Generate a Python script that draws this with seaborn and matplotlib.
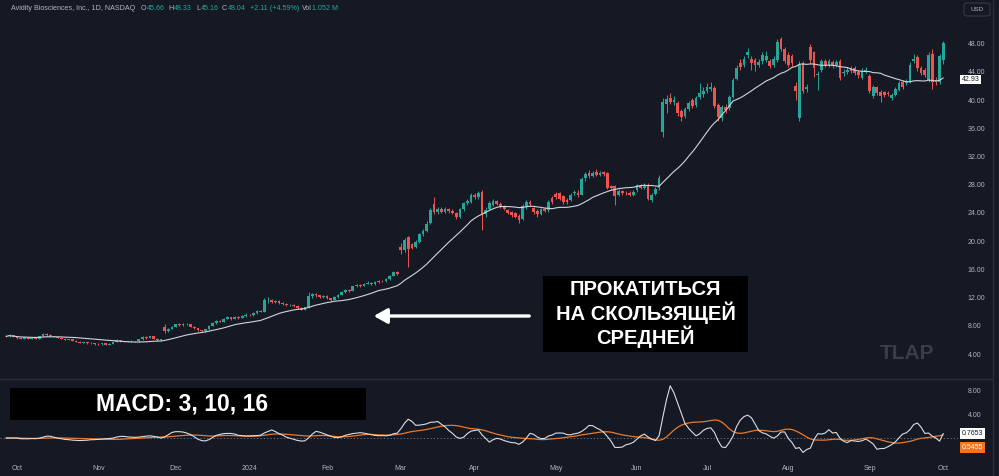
import numpy as np
import pandas as pd
import matplotlib
matplotlib.use("Agg")
import matplotlib.pyplot as plt
from matplotlib.lines import Line2D
from matplotlib.patches import Rectangle, FancyBboxPatch, FancyArrowPatch
import matplotlib.transforms as mtransforms
import seaborn as sns

# ---------------- data ----------------
opens = [6.6, 6.5, 6.7,
         6.4, 6.3, 6.2, 6.35, 6.2, 6.3, 6.2, 6.5, 6.9, 6.75, 6.5, 6.45, 6.3, 6.2, 6.05, 6.1, 5.9, 5.7, 5.6, 5.65, 5.5, 5.55,
         5.45, 5.4, 5.5, 5.35, 5.45, 5.7, 6.0, 5.85, 5.75, 5.8, 5.85, 5.8, 6.1, 6.4, 6.3, 6.5, 6.2, 6.0, 7.8, 7.2, 7.6,
         7.9, 8.2, 8.1, 8.3, 8.2, 7.9, 7.7, 7.35, 7.2, 7.5, 8.0, 8.4, 8.7, 8.6, 9.0, 9.2, 8.95, 9.3, 9.1, 9.4,
         9.6, 9.5, 9.8, 10.1, 10.0, 11.6, 11.7, 11.4, 11.5, 11.2, 11.1, 10.9, 11.0, 10.8, 10.5, 10.3, 10.6, 12.2, 12.5, 12.3, 12.1,
         12.2, 11.9, 11.7, 12.1, 12.4, 12.8, 13.1, 13.0, 13.6, 13.8, 13.7, 14.0, 14.1, 13.9, 14.2, 14.4, 14.3, 14.6, 15.1, 15.6,
         19.2, 18.7, 20.6, 19.6, 19.2, 19.9, 21.0, 21.5, 22.6, 25.3, 24.1, 24.6, 24.2, 24.5, 24.3, 24.0, 23.4, 24.5, 25.4, 25.6,
         26.5, 26.2, 27.0, 23.8, 24.6, 25.2, 25.7, 25.3, 25.0, 24.4, 24.1, 24.0, 23.6, 23.2, 24.8, 25.6, 24.7, 24.3, 23.9, 24.6, 24.4, 26.1,
         26.7, 26.8, 26.4, 25.8, 25.9, 26.8, 26.9, 26.6, 28.9, 29.6, 29.3, 29.8, 29.4, 29.8, 29.6, 27.8, 27.8, 26.6, 27.1, 26.9, 26.9, 26.6,
         27.2, 27.9, 27.6, 28.0, 25.8, 26.7, 27.5, 35.5, 39.5, 40.3, 39.8, 39.6, 38.4, 37.8, 38.7, 40.0, 39.3, 40.4, 40.9,
         41.3, 41.6, 41.7, 39.3, 37.4, 39.0, 38.9, 40.5, 43.0, 45.2, 45.0, 46.4, 45.9, 45.7, 45.0, 45.5, 45.7, 45.5, 45.0, 45.7, 48.6, 47.2,
         46.4, 46.2, 42.0, 37.5, 45.2, 41.6, 47.5, 46.8, 43.5, 44.3, 45.6, 45.0, 45.4, 45.0, 45.5, 43.8, 44.0, 44.5, 44.6, 44.0, 43.2, 44.2,
         43.4, 40.6, 41.8, 41.2, 41.1, 41.0, 40.3, 40.8, 41.5, 42.6, 42.4, 42.6, 45.5, 46.1, 44.5, 44.3, 42.9, 46.6, 42.9, 42.6,
         45.66]
closes = [6.5, 6.7, 6.4,
          6.3, 6.2, 6.35, 6.2, 6.3, 6.2, 6.5, 6.9, 6.75, 6.5, 6.45, 6.3, 6.2, 6.05, 6.1, 5.9, 5.7, 5.6, 5.65, 5.5, 5.55, 5.45,
          5.4, 5.5, 5.35, 5.45, 5.7, 6.0, 5.85, 5.75, 5.8, 5.85, 5.8, 6.1, 6.4, 6.3, 6.5, 6.2, 6.0, 6.1, 7.2, 7.6, 7.9,
          8.2, 8.1, 8.3, 8.2, 7.9, 7.7, 7.35, 7.2, 7.5, 8.0, 8.4, 8.7, 8.6, 9.0, 9.2, 8.95, 9.3, 9.1, 9.4, 9.6,
          9.5, 9.8, 10.1, 10.0, 11.6, 11.7, 11.4, 11.5, 11.2, 11.1, 10.9, 11.0, 10.8, 10.5, 10.3, 10.6, 12.2, 12.5, 12.3, 12.1, 12.2,
          11.9, 11.7, 12.1, 12.4, 12.8, 13.1, 13.0, 13.6, 13.8, 13.7, 14.0, 14.1, 13.9, 14.2, 14.4, 14.3, 14.6, 15.1, 15.6, 15.4,
          18.7, 20.2, 18.9, 19.1, 19.9, 21.0, 21.4, 22.5, 24.4, 24.1, 24.6, 24.2, 24.5, 24.3, 24.0, 23.5, 24.5, 25.4, 25.7, 26.5,
          26.2, 26.8, 23.8, 24.4, 25.4, 25.7, 25.3, 24.9, 24.6, 24.0, 23.7, 23.5, 23.0, 25.0, 25.5, 25.3, 24.1, 23.8, 24.5, 24.3, 25.6, 25.6,
          26.2, 26.0, 25.5, 25.6, 26.6, 27.0, 26.5, 28.8, 29.5, 29.3, 29.7, 29.4, 29.7, 29.5, 27.6, 27.5, 26.4, 27.1, 26.9, 26.8, 26.6, 27.0,
          27.9, 27.6, 28.0, 26.0, 26.6, 27.4, 29.0, 39.8, 40.2, 39.8, 40.0, 38.2, 37.6, 38.7, 39.6, 39.2, 40.3, 41.0, 41.3,
          41.8, 41.9, 39.2, 37.6, 39.0, 38.6, 40.5, 42.9, 44.6, 44.7, 45.9, 46.8, 45.2, 45.0, 45.4, 46.4, 46.2, 44.8, 45.8, 48.3, 47.2, 45.5,
          45.0, 45.2, 41.3, 45.0, 41.3, 41.9, 45.7, 44.5, 43.7, 45.5, 45.0, 45.5, 44.9, 45.4, 43.2, 44.0, 44.3, 44.1, 43.8, 43.5, 44.2, 44.3,
          41.3, 41.8, 41.0, 40.6, 40.8, 40.9, 40.7, 41.6, 42.4, 41.9, 42.6, 45.0, 45.9, 44.5, 43.8, 43.6, 46.4, 42.6, 42.6, 46.2,
          48.04]
highs = [6.75, 6.8, 6.75,
         6.5, 6.4, 6.45, 6.4, 6.4, 6.35, 6.6, 7.05, 7.0, 6.8, 6.6, 6.5, 6.4, 6.25, 6.2, 6.15, 5.95, 5.8, 5.75, 5.7, 5.65, 5.6,
         5.55, 5.6, 5.55, 5.55, 5.8, 6.1, 6.05, 5.9, 5.9, 5.95, 5.9, 6.2, 6.5, 6.5, 6.6, 6.55, 6.25, 6.2, 8.2, 7.7, 8.0,
         8.3, 8.35, 8.45, 8.4, 8.25, 7.95, 7.75, 7.45, 7.6, 8.1, 8.5, 8.8, 8.85, 9.1, 9.35, 9.3, 9.4, 9.4, 9.5, 9.75,
         9.7, 9.9, 10.2, 10.25, 12.0, 12.1, 11.8, 11.7, 11.6, 11.35, 11.2, 11.15, 11.1, 10.9, 10.6, 10.7, 12.8, 12.7, 12.6, 12.4, 12.35,
         12.3, 12.0, 12.2, 12.5, 12.9, 13.25, 13.2, 13.7, 13.95, 13.9, 14.1, 14.3, 14.2, 14.3, 14.55, 14.5, 14.75, 15.2, 15.8, 15.75,
         19.8, 20.5, 20.8, 19.8, 20.1, 21.2, 21.7, 22.8, 24.7, 26.3, 24.9, 24.8, 24.8, 24.7, 24.5, 24.2, 24.7, 25.6, 26.0, 26.8,
         26.9, 27.1, 27.2, 24.8, 25.7, 26.0, 25.9, 25.5, 25.2, 24.6, 24.3, 24.2, 23.8, 25.3, 25.8, 25.9, 24.9, 24.5, 24.7, 24.8, 25.9, 26.4,
         27.0, 27.0, 26.6, 26.1, 26.9, 27.3, 27.2, 29.1, 29.8, 30.1, 30.0, 30.2, 30.0, 30.0, 29.8, 28.0, 28.0, 27.4, 27.3, 27.1, 27.1, 27.3,
         28.1, 28.1, 28.2, 28.2, 26.9, 27.7, 29.4, 40.3, 40.8, 41.0, 40.6, 39.9, 38.7, 39.0, 39.9, 40.3, 40.6, 42.5, 41.8,
         42.4, 42.6, 42.0, 39.6, 39.3, 39.4, 40.8, 43.2, 45.0, 45.8, 46.3, 47.4, 46.2, 46.0, 45.8, 46.8, 46.9, 45.9, 46.2, 48.6, 49.0, 47.5,
         46.8, 46.5, 42.6, 45.6, 45.6, 42.3, 47.9, 47.0, 44.2, 45.8, 45.9, 45.8, 45.7, 45.7, 45.8, 44.4, 44.7, 44.8, 44.9, 44.3, 44.5, 44.7,
         43.7, 42.1, 42.0, 41.4, 41.3, 41.3, 41.0, 41.9, 42.7, 42.9, 43.0, 45.4, 46.6, 46.4, 44.8, 44.6, 46.8, 47.2, 43.3, 46.6,
         48.33]
lows = [6.4, 6.45, 6.35,
        6.2, 6.1, 6.15, 6.1, 6.15, 6.1, 6.15, 6.45, 6.6, 6.45, 6.35, 6.25, 6.1, 5.95, 5.95, 5.85, 5.65, 5.5, 5.5, 5.4, 5.4, 5.35,
        5.3, 5.3, 5.25, 5.3, 5.4, 5.65, 5.75, 5.65, 5.7, 5.7, 5.7, 5.75, 6.05, 6.2, 6.25, 6.15, 5.9, 5.9, 7.0, 7.1, 7.5,
        7.8, 8.0, 8.0, 8.1, 7.8, 7.6, 7.3, 7.1, 7.15, 7.45, 7.95, 8.3, 8.5, 8.55, 8.9, 8.85, 8.9, 9.0, 9.05, 9.3,
        9.35, 9.4, 9.7, 9.9, 9.9, 11.3, 11.2, 11.25, 11.1, 10.95, 10.8, 10.8, 10.7, 10.4, 10.2, 10.2, 10.5, 12.0, 12.1, 11.9, 11.95,
        11.8, 11.55, 11.6, 12.0, 12.3, 12.7, 12.85, 12.95, 13.5, 13.55, 13.6, 13.9, 13.8, 13.85, 14.1, 14.15, 14.2, 14.5, 15.0, 15.2,
        18.2, 18.5, 16.3, 18.9, 19.0, 19.8, 20.8, 21.3, 22.4, 23.9, 23.9, 24.0, 24.0, 24.0, 23.8, 23.2, 23.3, 24.3, 25.2, 25.4,
        26.0, 26.0, 21.6, 23.4, 24.4, 25.0, 25.1, 24.7, 24.4, 23.8, 23.5, 23.3, 22.6, 23.0, 24.6, 25.0, 23.9, 23.5, 23.7, 24.1, 24.2, 25.3,
        26.0, 25.8, 25.3, 25.3, 25.7, 26.5, 26.3, 26.5, 28.6, 29.0, 29.1, 29.2, 29.2, 29.3, 27.4, 27.2, 25.1, 26.4, 26.6, 26.6, 26.4, 26.4,
        27.0, 27.4, 27.4, 25.8, 25.5, 26.5, 27.3, 34.8, 38.2, 39.4, 39.3, 37.8, 37.0, 37.5, 38.4, 38.9, 39.0, 40.1, 40.5,
        41.0, 41.3, 38.9, 37.0, 37.1, 38.2, 38.6, 40.3, 42.8, 44.3, 44.7, 46.0, 44.3, 44.2, 44.7, 45.1, 45.4, 44.5, 44.7, 45.4, 46.9, 45.2,
        44.7, 44.9, 40.0, 37.0, 41.0, 41.2, 45.3, 43.3, 41.5, 44.0, 44.7, 44.7, 44.6, 44.7, 42.9, 43.4, 43.7, 43.8, 43.5, 43.2, 43.0, 43.9,
        41.0, 40.3, 40.7, 39.8, 40.5, 40.6, 40.0, 40.6, 41.3, 41.6, 42.1, 42.4, 45.2, 44.2, 43.5, 43.3, 42.6, 41.6, 42.2, 42.3,
        45.16]

holidays = ["2023-11-23", "2023-12-25", "2024-01-01", "2024-01-15", "2024-02-19",
            "2024-03-29", "2024-05-27", "2024-06-19", "2024-07-04", "2024-09-02"]
month_labels = ["Oct", "Nov", "Dec", "2024", "Feb", "Mar", "Apr", "May", "Jun", "Jul", "Aug", "Sep", "Oct"]
price_ticks = [4, 8, 12, 16, 20, 24, 28, 32, 36, 40, 44, 48]
macd_ticks = [4, 8]
ma_label = "42.93"
macd_label = "0.7653"
signal_label = "0.5455"
ma_box_level, macd_box_level = 42.93, 0.7653
header_title = "Avidity Biosciences, Inc., 1D, NASDAQ"
header_keys = ["O", "H", "L", "C", "", "Vol"]
header_vals = ["45.66", "48.33", "45.16", "48.04", "+2.11 (+4.59%)", "1.052 M"]
header_starts = [140.5, 168, 196, 222, 249.5, 302]
annot_text = "ПРОКАТИТЬСЯ\nНА СКОЛЬЗЯЩЕЙ\nСРЕДНЕЙ"
macd_text = "MACD: 3, 10, 16"
watermark = "TLAP"

# ---------------- frame ----------------
dates = pd.bdate_range("2023-09-27", "2024-10-01")
dates = dates[~dates.isin(pd.to_datetime(holidays))]
df = pd.DataFrame({"date": dates[:len(closes)], "open": opens, "high": highs,
                   "low": lows, "close": closes})
df["i"] = np.arange(len(df))
df["ma"] = df["close"].rolling(20, min_periods=1).mean()
fast = df["close"].rolling(3, min_periods=1).mean()
slow = df["close"].rolling(10, min_periods=1).mean()
df["macd"] = fast - slow
df["signal"] = df["macd"].rolling(16, min_periods=1).mean()
month_idx = [i for i in range(1, len(df)) if df["date"][i].month != df["date"][i - 1].month]

BG = "#151924"
GREEN, RED = "#26a69a", "#ef5350"
TXT = "#b2b5be"

sns.set_theme(style="dark", rc={"axes.facecolor": BG, "figure.facecolor": BG})
plt.rcParams["font.family"] = ["Liberation Sans", "DejaVu Sans"]

W, H = 999, 476
fig = plt.figure(figsize=(W / 100, H / 100), dpi=100, facecolor=BG)
fx = lambda px: px / W
fy = lambda py: 1 - py / H

x0 = -6 / 3.69
x1 = (958 - 6) / 3.69

ax = fig.add_axes([0, fy(378), 958 / W, 378 / H])
axm = fig.add_axes([0, fy(455), 958 / W, 75 / H])
for a in (ax, axm):
    a.set_facecolor(BG)
    for s in a.spines.values():
        s.set_visible(False)
    a.grid(False)
    a.set_xlim(x0, x1)

# candles
up = df["close"] >= df["open"]
cols = np.where(up, GREEN, RED)
ax.vlines(df["i"], df["low"], df["high"], colors=cols, lw=0.7, zorder=2)
body = (df["close"] - df["open"]).abs().clip(lower=0.06)
ax.bar(df["i"], body, bottom=df[["open", "close"]].min(axis=1), width=0.74,
       color=cols, linewidth=0, zorder=3)
sns.lineplot(data=df, x="i", y="ma", ax=ax, color="#d1d4dc", lw=0.8, zorder=4)
ax.set_ylim(0.6, 54.2)
ax.set_xlabel(""); ax.set_ylabel("")
ax.set_xticks([])
ax.yaxis.tick_right()
ax.set_yticks(price_ticks)
ax.set_yticklabels([f"{v:.2f}" for v in price_ticks])
ax.tick_params(axis="y", length=0, pad=7, labelsize=5, labelcolor=TXT)

# MACD pane
axm.axhline(0, color="#787b86", lw=0.6, ls=(0, (1.5, 2.5)), zorder=1)
sns.lineplot(data=df, x="i", y="signal", ax=axm, color="#e8792b", lw=0.9, zorder=3)
sns.lineplot(data=df, x="i", y="macd", ax=axm, color="#dcdde2", lw=0.8, zorder=4)
axm.set_ylim(-2.83, 9.67)
axm.set_xlabel(""); axm.set_ylabel("")
axm.yaxis.tick_right()
axm.set_yticks(macd_ticks)
axm.set_yticklabels([f"{v:.2f}" for v in macd_ticks])
axm.tick_params(axis="y", length=0, pad=7, labelsize=5, labelcolor=TXT)
axm.set_xticks(month_idx)
axm.set_xticklabels(month_labels)
axm.tick_params(axis="x", length=0, pad=7, labelsize=5, labelcolor=TXT)

# right-side value boxes
tr = mtransforms.blended_transform_factory(ax.transAxes, ax.transData)
ax.text(1.004, ma_box_level, ma_label, transform=tr, fontsize=5, color="#131722",
        va="center", ha="left", zorder=10, clip_on=False,
        bbox=dict(boxstyle="square,pad=0.2", fc="white", ec="none"))
trm = mtransforms.blended_transform_factory(axm.transAxes, axm.transData)
axm.text(1.004, macd_box_level, macd_label, transform=trm, fontsize=5, color="#131722",
         va="center", ha="left", zorder=10, clip_on=False,
         bbox=dict(boxstyle="square,pad=0.25", fc="white", ec="none"))
axm.annotate(signal_label, xy=(1.004, macd_box_level), xycoords=trm, xytext=(0, -10),
             textcoords="offset points", fontsize=5, color="white", va="center", ha="left",
             zorder=10, annotation_clip=False,
             bbox=dict(boxstyle="square,pad=0.25", fc="#f7731c", ec="none"))

# separators
fig.add_artist(Line2D([0, fx(993)], [fy(379), fy(379)], color="#2a2e39", lw=1))
fig.add_artist(Line2D([fx(993), fx(993)], [0, 1], color="#2a2e39", lw=1))

# USD box
fig.add_artist(FancyBboxPatch((fx(964), fy(16)), 26 / W, 13 / H,
                              boxstyle="round,pad=0,rounding_size=0.004",
                              transform=fig.transFigure, fc=BG, ec="#363a45", lw=0.8))
fig.text(fx(977), fy(9.5), "USD", fontsize=4.5, color=TXT, ha="center", va="center")

# header (label followed directly by its value)
renderer = fig.canvas.get_renderer()
fig.text(fx(11), fy(8), header_title, fontsize=5.1, color=TXT, ha="left", va="center")
for key, val, px in zip(header_keys, header_vals, header_starts):
    xv = px
    if key:
        t = fig.text(fx(px), fy(8), key, fontsize=5.1, color=TXT, ha="left", va="center")
        bb = t.get_window_extent(renderer=renderer)
        xv = bb.x1 + 0.6
    fig.text(fx(xv), fy(8), val, fontsize=5.1, color=GREEN, ha="left", va="center")

# annotation box + arrow
fig.add_artist(Rectangle((fx(543), fy(352)), 205 / W, 76 / H, transform=fig.transFigure,
                         fc="black", ec="none", zorder=5))
fig.text(fx(645.5), fy(314), annot_text, fontsize=14.5, fontweight="bold", color="white",
         ha="center", va="center", linespacing=1.13, zorder=6)
fig.add_artist(FancyArrowPatch((fx(532), fy(316)), (fx(371), fy(316)),
                               transform=fig.transFigure, arrowstyle="-|>,head_length=0.8,head_width=0.45",
                               mutation_scale=10, color="white", lw=2.4, zorder=6))

# MACD label box
fig.add_artist(Rectangle((fx(10), fy(420)), 356 / W, 32 / H, transform=fig.transFigure,
                         fc="black", ec="none", zorder=5))
fig.text(fx(182), fy(404), macd_text, fontsize=16.5, fontweight="bold", color="white",
         ha="center", va="center", zorder=6)

# watermark
fig.text(fx(907), fy(353.5), watermark, fontsize=15, fontweight="bold", color="#3b3e47",
         ha="center", va="center")

fig.savefig("out.png", dpi=100, facecolor=BG)
